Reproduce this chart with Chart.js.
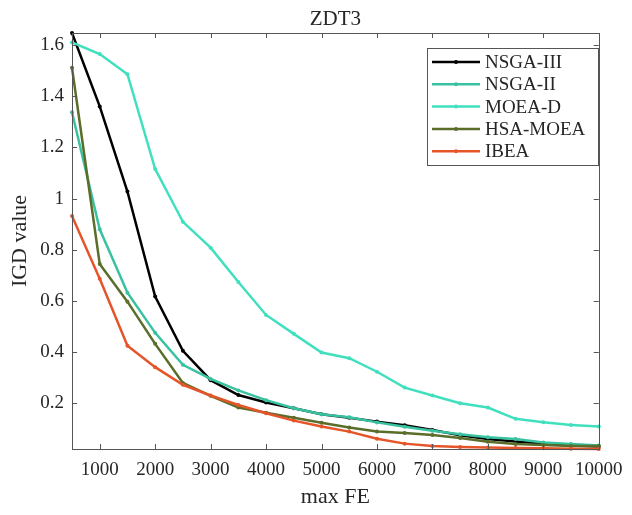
<!DOCTYPE html>
<html>
<head>
<meta charset="utf-8">
<script src="https://cdn.jsdelivr.net/npm/chart.js@4"></script>
<style>
html,body{margin:0;padding:0;background:#fff;}
#wrap{width:632px;height:515px;}
</style>
</head>
<body>
<div id="wrap"><canvas id="c" width="632" height="515"></canvas></div>
<script>
const maxFE = [500,1000,1500,2000,2500,3000,3500,4000,4500,5000,5500,6000,6500,7000,7500,8000,8500,9000,9500,10000];
const nsga3 = [1.647,1.36,1.027,0.617,0.405,0.29,0.232,0.203,0.18,0.157,0.143,0.128,0.114,0.095,0.075,0.06,0.05,0.042,0.035,0.031];
const nsga2 = [1.337,0.88,0.632,0.475,0.35,0.295,0.25,0.212,0.18,0.157,0.145,0.125,0.108,0.092,0.079,0.067,0.06,0.046,0.041,0.035];
const moead = [1.61,1.565,1.486,1.115,0.909,0.808,0.674,0.545,0.471,0.398,0.376,0.323,0.261,0.23,0.2,0.183,0.139,0.126,0.115,0.109];
const hsamoea = [1.511,0.744,0.597,0.432,0.279,0.229,0.183,0.163,0.143,0.124,0.105,0.089,0.084,0.076,0.064,0.049,0.041,0.037,0.033,0.033];
const ibea = [0.932,0.686,0.425,0.341,0.272,0.23,0.193,0.161,0.132,0.109,0.089,0.061,0.042,0.033,0.029,0.027,0.025,0.024,0.022,0.021];

const seriesNames = ['NSGA-III','NSGA-II','MOEA-D','HSA-MOEA','IBEA'];
const seriesValues = [nsga3, nsga2, moead, hsamoea, ibea];
const seriesColors = ['#000000','#38c2a0','#40e0bf','#5a6d2a','#e4552a'];

const xTicks = [1000,2000,3000,4000,5000,6000,7000,8000,9000,10000];
const yTicks = [0.2,0.4,0.6,0.8,1,1.2,1.4,1.6];
const yTickLabels = ['0.2','0.4','0.6','0.8','1','1.2','1.4','1.6'];

const FONT = "'Liberation Serif', 'Times New Roman', serif";
const AXIS_COLOR = '#555555';
const TEXT_COLOR = '#262626';

const datasets = seriesNames.map((name, i) => ({
  label: name,
  data: maxFE.map((x, j) => ({x: x, y: seriesValues[i][j]})),
  borderColor: seriesColors[i],
  backgroundColor: seriesColors[i],
  borderWidth: 2.5,
  pointRadius: 2,
  pointHoverRadius: 2,
  pointBorderWidth: 0,
  tension: 0,
  clip: 6,
  order: seriesNames.length - i
}));

const boxPlugin = {
  id: 'matlabBox',
  afterDatasetsDraw(chart) {
    const ctx = chart.ctx;
    const a = chart.chartArea;
    const xs = chart.scales.x, ys = chart.scales.y;
    const tl = 5;
    ctx.save();
    ctx.strokeStyle = AXIS_COLOR;
    ctx.lineWidth = 1;
    ctx.beginPath();
    xTicks.forEach(v => {
      const px = Math.round(xs.getPixelForValue(v)) + 0.5;
      ctx.moveTo(px, a.bottom); ctx.lineTo(px, a.bottom - tl);
      ctx.moveTo(px, a.top); ctx.lineTo(px, a.top + tl);
    });
    yTicks.forEach(v => {
      const py = Math.round(ys.getPixelForValue(v)) + 0.5;
      ctx.moveTo(a.left, py); ctx.lineTo(a.left + tl, py);
      ctx.moveTo(a.right, py); ctx.lineTo(a.right - tl, py);
    });
    ctx.stroke();
    ctx.strokeRect(Math.round(a.left) + 0.5, Math.round(a.top) + 0.5, Math.round(a.right - a.left), Math.round(a.bottom - a.top));
    ctx.restore();
  },
  afterDraw(chart) {
    const ctx = chart.ctx;
    const bx = 427, by = 48, bw = 171, bh = 117;
    ctx.save();
    ctx.fillStyle = '#ffffff';
    ctx.fillRect(bx, by, bw, bh);
    ctx.strokeStyle = AXIS_COLOR;
    ctx.lineWidth = 1;
    ctx.strokeRect(bx + 0.5, by + 0.5, bw, bh);
    ctx.font = "19px " + FONT;
    ctx.textBaseline = 'middle';
    ctx.textAlign = 'left';
    chart.data.datasets.forEach((ds, i) => {
      const y = 62 + i * 22.3;
      ctx.strokeStyle = ds.borderColor;
      ctx.lineWidth = 2.5;
      ctx.beginPath();
      ctx.moveTo(432, y); ctx.lineTo(480, y);
      ctx.stroke();
      ctx.fillStyle = ds.borderColor;
      ctx.beginPath();
      ctx.arc(456, y, 2, 0, Math.PI * 2);
      ctx.fill();
      ctx.fillStyle = TEXT_COLOR;
      ctx.fillText(ds.label, 485, y + 1);
    });
    ctx.restore();
  }
};

new Chart(document.getElementById('c'), {
  type: 'line',
  data: { datasets: datasets },
  options: {
    responsive: false,
    animation: false,
    events: [],
    layout: { padding: { left: 0, right: 28, top: 0, bottom: 0 } },
    plugins: {
      legend: { display: false },
      tooltip: { enabled: false },
      title: {
        display: true,
        text: 'ZDT3',
        fullSize: false,
        color: TEXT_COLOR,
        font: { family: FONT, size: 21, weight: 'normal' },
        padding: { top: 7, bottom: 0.8 }
      }
    },
    scales: {
      x: {
        type: 'linear',
        min: 500,
        max: 10000,
        afterFit(s) { s.height = 66; },
        afterBuildTicks(s) { s.ticks = xTicks.map(v => ({value: v})); },
        grid: { display: false, drawTicks: false },
        border: { display: false },
        ticks: {
          color: TEXT_COLOR,
          font: { family: FONT, size: 19 },
          padding: 9.5,
          maxRotation: 0,
          autoSkip: false,
          callback: (v) => String(v)
        },
        title: {
          display: true,
          text: 'max FE',
          color: TEXT_COLOR,
          font: { family: FONT, size: 22 },
          padding: { top: 0, bottom: 4.8 }
        }
      },
      y: {
        type: 'linear',
        min: 0.021,
        max: 1.647,
        afterFit(s) { s.width = 72; },
        afterBuildTicks(s) { s.ticks = yTicks.map(v => ({value: v})); },
        grid: { display: false, drawTicks: false },
        border: { display: false },
        ticks: {
          color: TEXT_COLOR,
          font: { family: FONT, size: 19 },
          padding: 8,
          autoSkip: false,
          callback: (v) => { const k = yTicks.indexOf(v); return k >= 0 ? yTickLabels[k] : ''; }
        },
        title: {
          display: true,
          text: 'IGD value',
          color: TEXT_COLOR,
          font: { family: FONT, size: 22 },
          padding: { top: 7.3, bottom: 0 }
        }
      }
    }
  },
  plugins: [boxPlugin]
});
</script>
</body>
</html>
